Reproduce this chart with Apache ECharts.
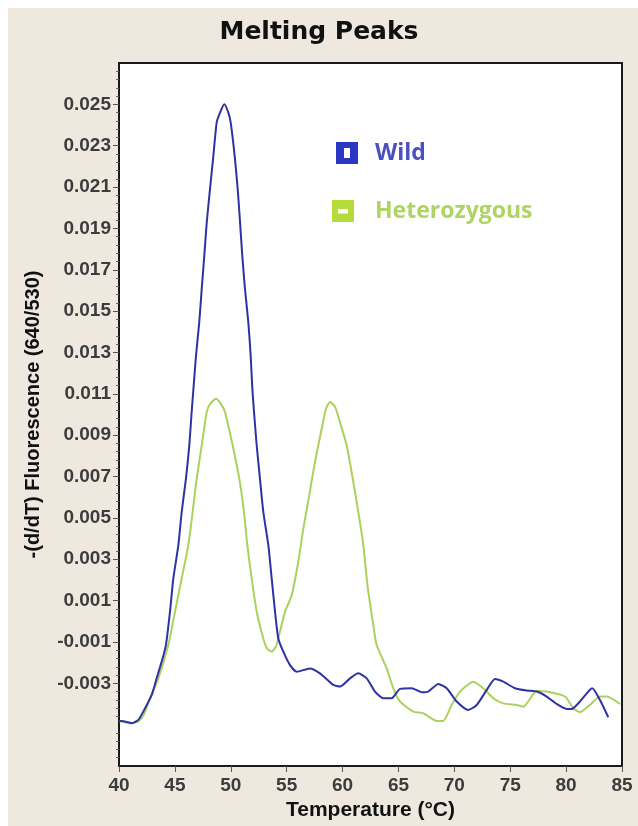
<!DOCTYPE html>
<html>
<head>
<meta charset="utf-8">
<script src="https://cdn.jsdelivr.net/npm/echarts@6.0.0/dist/echarts.min.js"></script>
<style>
html,body{margin:0;padding:0;background:#fff;}
#chart{width:638px;height:826px;}
</style>
</head>
<body>
<div id="chart"></div>
<script>
// ---- data ----
const xTicks = [40, 45, 50, 55, 60, 65, 70, 75, 80, 85];
const yTicks = [-0.003, -0.001, 0.001, 0.003, 0.005, 0.007, 0.009, 0.011, 0.013, 0.015, 0.017, 0.019, 0.021, 0.023, 0.025];
const seriesNames = ['Wild', 'Heterozygous'];

const wildTemp = [40.0, 40.24, 41.14, 41.73, 42.17, 42.93, 43.37, 43.82, 44.20, 44.56, 44.86, 45.31, 45.61, 45.99, 46.29, 46.50, 46.66, 46.89, 47.18, 47.40, 47.63, 47.85, 48.14, 48.44, 48.74, 49.04, 49.42, 49.78, 49.99, 50.35, 50.62, 50.83, 51.03, 51.27, 51.57, 51.78, 51.93, 52.08, 52.32, 52.61, 52.91, 53.36, 53.66, 53.96, 54.25, 54.70, 55.30, 55.90, 57.09, 57.98, 59.17, 59.77, 60.67, 61.41, 62.16, 62.90, 63.64, 64.40, 65.14, 66.19, 67.08, 67.67, 68.57, 69.32, 70.21, 71.25, 72.00, 72.90, 73.64, 74.38, 75.43, 76.47, 77.37, 78.26, 79.16, 80.05, 80.50, 81.24, 82.34, 83.03, 83.77];
const wildValue = [-0.00482, -0.00482, -0.00493, -0.00477, -0.00437, -0.00356, -0.00276, -0.00195, -0.00115, 0.00046, 0.00207, 0.00368, 0.00529, 0.0069, 0.0085, 0.01012, 0.01124, 0.01285, 0.01446, 0.01607, 0.01768, 0.01929, 0.0209, 0.0225, 0.02413, 0.0246, 0.025, 0.0246, 0.02413, 0.0225, 0.0209, 0.01929, 0.01768, 0.01607, 0.01446, 0.01285, 0.01124, 0.01012, 0.0085, 0.0069, 0.00529, 0.00368, 0.00207, 0.00046, -0.00083, -0.00147, -0.00212, -0.00244, -0.00228, -0.00252, -0.00308, -0.00316, -0.00276, -0.00252, -0.00276, -0.0034, -0.00372, -0.00372, -0.00327, -0.00324, -0.00343, -0.0034, -0.00303, -0.00324, -0.00388, -0.00429, -0.00405, -0.00332, -0.00279, -0.00292, -0.00324, -0.00335, -0.0034, -0.00364, -0.004, -0.00424, -0.00424, -0.00388, -0.00324, -0.00381, -0.00464];

const hetTemp = [40.0, 41.14, 41.73, 42.24, 42.77, 43.52, 44.41, 45.01, 45.61, 46.20, 46.59, 46.95, 47.40, 47.85, 48.14, 48.68, 49.13, 49.48, 50.17, 50.76, 51.18, 51.48, 51.87, 52.32, 52.91, 53.24, 53.66, 54.05, 54.25, 54.85, 55.45, 56.04, 56.49, 57.02, 57.53, 58.13, 58.52, 58.88, 59.33, 59.77, 60.37, 60.91, 61.41, 61.86, 62.16, 62.30, 62.75, 63.05, 63.95, 64.54, 65.14, 66.33, 67.22, 68.42, 69.00, 69.76, 70.51, 71.70, 72.59, 73.49, 74.38, 75.58, 76.17, 77.37, 78.26, 79.90, 80.64, 81.24, 82.13, 83.03, 83.63, 84.82];
const hetValue = [-0.00482, -0.00493, -0.00484, -0.0045, -0.00372, -0.00276, -0.00115, 0.00046, 0.00207, 0.00368, 0.00529, 0.0069, 0.0085, 0.01012, 0.0105, 0.01076, 0.0105, 0.01012, 0.0085, 0.0069, 0.00529, 0.00368, 0.00207, 0.00046, -0.00083, -0.00131, -0.00147, -0.00121, -0.00083, 0.00046, 0.00126, 0.00288, 0.00448, 0.00609, 0.0077, 0.00931, 0.01028, 0.0106, 0.01037, 0.00963, 0.0085, 0.0069, 0.00529, 0.00368, 0.00207, 0.00143, -0.00019, -0.00115, -0.00228, -0.00324, -0.00388, -0.00437, -0.00445, -0.00482, -0.00482, -0.00405, -0.0034, -0.00292, -0.00324, -0.00372, -0.00397, -0.00405, -0.00413, -0.00337, -0.0034, -0.00364, -0.00421, -0.0044, -0.00405, -0.00364, -0.00364, -0.004];

// ---- build ----
const pair = (xs, ys) => xs.map((x, i) => [x, ys[i]]);
const wildIcon = 'path://M0,0L22,0L22,22L0,22Z M8,6L8,16L14,16L14,6Z';
const hetIcon = 'path://M0,0L22,0L22,22L0,22Z M6,9L6,13.5L16,13.5L16,9Z';
const labelFont = {fontFamily: 'Liberation Sans', fontWeight: 'bold', fontSize: 19, color: '#3c3c3c'};
const legendText = {fontFamily: 'Open Sans', fontWeight: 700, fontSize: 23, lineHeight: 26, padding: [0, 0, 0, 12]};

const chart = echarts.init(document.getElementById('chart'), null, {renderer: 'canvas'});
chart.setOption({
  backgroundColor: '#eee8df',
  animation: false,
  graphic: [
    {type: 'rect', shape: {x: 0, y: 0, width: 638, height: 8}, style: {fill: '#fff'}, silent: true},
    {type: 'rect', shape: {x: 0, y: 0, width: 8, height: 826}, style: {fill: '#fff'}, silent: true}
  ],
  title: {
    text: 'Melting Peaks', left: 'center', top: 20, padding: 0,
    textStyle: {fontFamily: 'DejaVu Sans', fontWeight: 'bold', fontSize: 25, color: '#111'}
  },
  grid: {
    left: 119, right: 16, top: 63, bottom: 60, show: true,
    backgroundColor: '#fff', borderColor: '#1a1a1a', borderWidth: 2
  },
  legend: [
    {
      data: [{name: seriesNames[0], icon: wildIcon, itemStyle: {color: '#2b36c2'}, textStyle: {color: '#4a50c0'}}],
      left: 336, top: 140, padding: 0, itemWidth: 22, itemHeight: 22, selectedMode: false,
      textStyle: legendText
    },
    {
      data: [{name: seriesNames[1], icon: hetIcon, itemStyle: {color: '#b5dc3a'}, textStyle: {color: '#aed462'}}],
      left: 332, top: 198, padding: 0, itemWidth: 22, itemHeight: 22, selectedMode: false,
      textStyle: Object.assign({}, legendText, {padding: [0, 0, 0, 16]})
    }
  ],
  xAxis: {
    type: 'value', min: 40, max: 85, interval: 5,
    name: 'Temperature (°C)', nameLocation: 'middle', nameGap: 31,
    nameTextStyle: {fontFamily: 'Liberation Sans', fontWeight: 'bold', fontSize: 21, color: '#111'},
    axisLine: {show: true, onZero: false, lineStyle: {color: '#1a1a1a', width: 2}},
    axisTick: {show: true, inside: false, length: 6, lineStyle: {color: '#555'}},
    axisLabel: Object.assign({margin: 10, customValues: xTicks}, labelFont),
    splitLine: {show: false}
  },
  yAxis: {
    type: 'value', min: -0.007, max: 0.027, interval: 0.002,
    name: '-(d/dT) Fluorescence (640/530)', nameLocation: 'middle', nameGap: 76, nameRotate: 90,
    nameTextStyle: {fontFamily: 'Liberation Sans', fontWeight: 'bold', fontSize: 20, color: '#111'},
    axisLine: {show: true, onZero: false, lineStyle: {color: '#1a1a1a', width: 2}},
    axisTick: {show: true, inside: false, length: 6, customValues: yTicks, lineStyle: {color: '#555'}},
    minorTick: {show: true, splitNumber: 5, length: 3, lineStyle: {color: '#666'}},
    axisLabel: Object.assign({margin: 8, customValues: yTicks, formatter: v => v.toFixed(3)}, labelFont),
    splitLine: {show: false}
  },
  series: [
    {
      name: seriesNames[1], type: 'line', data: pair(hetTemp, hetValue),
      showSymbol: false, smooth: 0.2, color: '#abd05e',
      lineStyle: {width: 2, color: '#abd05e'}, z: 2
    },
    {
      name: seriesNames[0], type: 'line', data: pair(wildTemp, wildValue),
      showSymbol: false, smooth: 0.2, color: '#2e33a3',
      lineStyle: {width: 2, color: '#2e33a3'}, z: 3
    }
  ]
});
</script>
</body>
</html>
